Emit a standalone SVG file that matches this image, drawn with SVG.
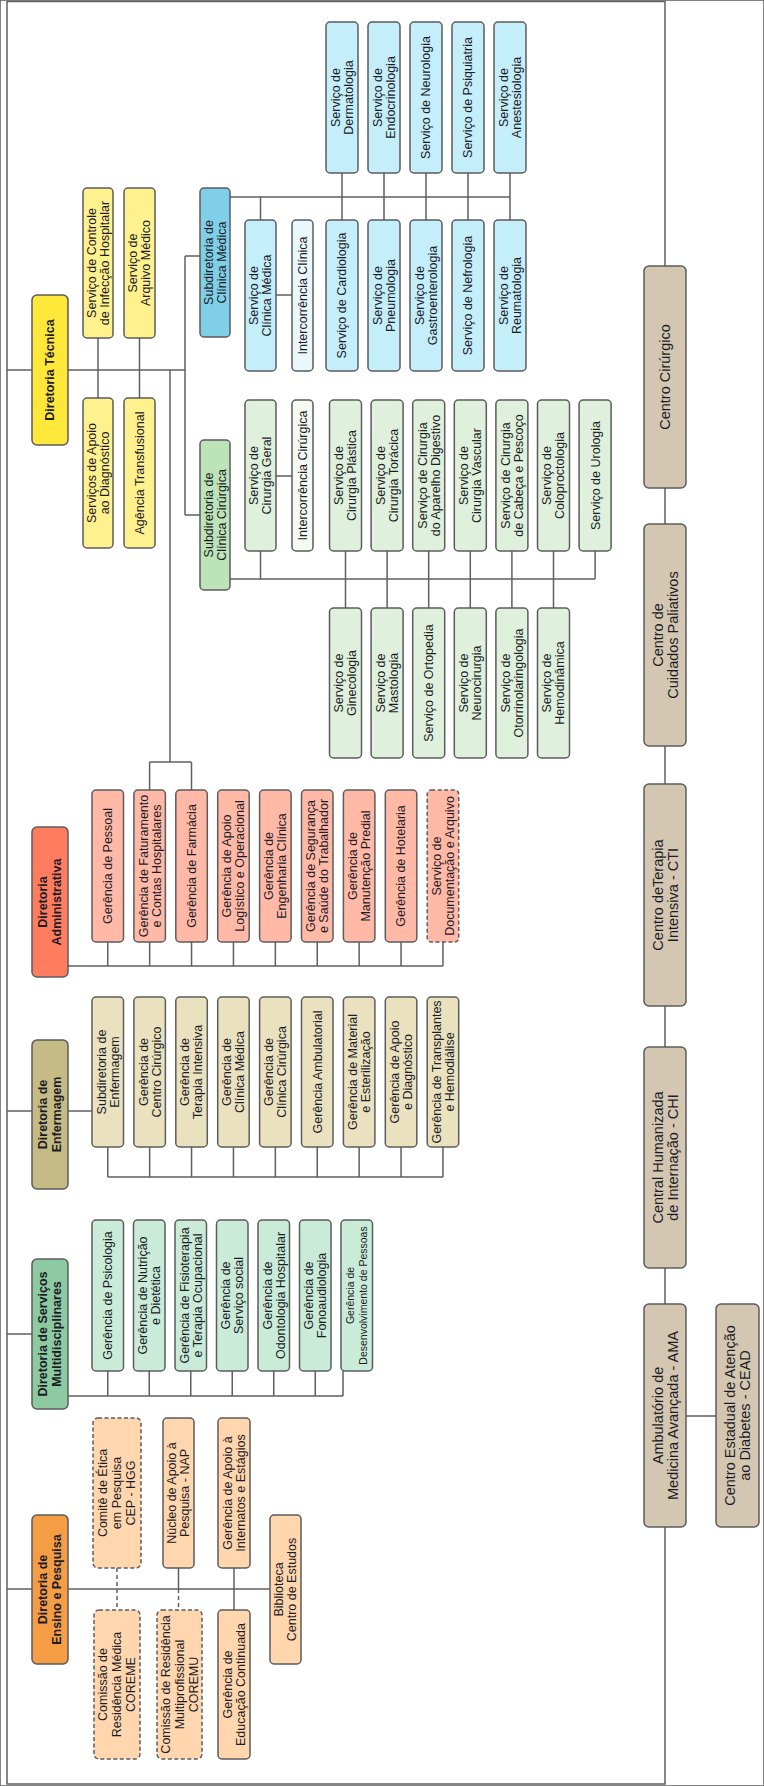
<svg xmlns="http://www.w3.org/2000/svg" width="764" height="1786" viewBox="0 0 764 1786">
<style>
rect{stroke:#5c5c5c;stroke-width:1.5}
.dash{stroke-dasharray:4 2.5}
.c{stroke:#606060;stroke-width:1.5;fill:none}
.cd{stroke:#606060;stroke-width:1.5;fill:none;stroke-dasharray:4 3}
text{font-family:"Liberation Sans",Arial,sans-serif;font-size:12.5px;fill:#1c1c28;text-anchor:middle}
.b{font-weight:bold}
.big{font-size:14.5px}
.sm{font-size:10.5px}
.yd{fill:#FFE83A}.yl{fill:#FFF28E}
.bd{fill:#80CFE8}.bl{fill:#C4EEFA}.bx{fill:#EAF7FD}
.gd{fill:#BDE3B8}.gl{fill:#DFF1DC}.gx{fill:#F5FAF2}
.rd{fill:#FF7D5E}.rl{fill:#FFB9A6}
.ed{fill:#C6BB85}.el{fill:#EAE1BF}
.md{fill:#8DC9A1}.ml{fill:#C9EBD7}
.od{fill:#F59D45}.ol{fill:#FFD6AD}
.bg{fill:#D4C7B1}
</style>
<rect x="0" y="0" width="764" height="1786" fill="#fff" stroke="none"/>
<g id="connectors">
<path class="c" d="M665,266 V1.5 H7 V1784 H665 V1527"/>
<path class="c" d="M665,488 V524 M665,746 V784 M665,1006 V1047 M665,1268 V1304 M686,1416 H716"/>
<path class="c" d="M7,370 H32 M68,370 H185 M185,256 V515 M185,256 H200 M185,515 H200 M98,338 V398 M139.5,338 V398"/>
<path class="c" d="M170,370 V762 M149.6,762 H191.5 M149.6,762 V790 M191.5,762 V790"/>
<path class="c" d="M230,197 H510 M260.5,197 V220 M342,173 V220 M384,173 V220 M426,173 V220 M468,173 V220 M510,173 V220 M276,295 H292"/>
<path class="c" d="M230,579 H595.1 M260.5,551 V579 M276,476 H292 M345.5,551 V608 M387.1,551 V608 M428.7,551 V608 M470.3,551 V608 M511.9,551 V608 M553.5,551 V608 M595.1,551 V579"/>
<path class="c" d="M68,966 H443 M107.75,942 V966 M149.65,942 V966 M191.55,942 V966 M233.45,942 V966 M275.35,942 V966 M317.25,942 V966 M359.15,942 V966 M401.05,942 V966 M442.95,942 V966"/>
<path class="c" d="M7,1111 H32 M68,1111 H92 M107.75,1177 H443 M107.75,1147 V1177 M149.65,1147 V1177 M191.55,1147 V1177 M233.45,1147 V1177 M275.35,1147 V1177 M317.25,1147 V1177 M359.15,1147 V1177 M401.05,1147 V1177 M442.95,1147 V1177"/>
<path class="c" d="M7,1334 H32 M68,1396 H343 M107.75,1371 V1396 M149.25,1371 V1396 M190.75,1371 V1396 M232.25,1371 V1396 M273.75,1371 V1396 M315.25,1371 V1396 M343,1371 V1396"/>
<path class="c" d="M7,1589 H32 M68,1589 H270 M178.5,1568 V1589 M234,1568 V1610"/>
<path class="cd" d="M117,1568 V1610 M178.5,1589 V1610"/>
</g>
<g id="diretoria-tecnica"><rect class="yd" x="32" y="295" width="36" height="150" rx="5"/><text class="b" transform="translate(50,370) rotate(-90)" y="4.4">Diretoria Técnica</text></g>
<g id="scih"><rect class="yl" x="83" y="188" width="30" height="150" rx="4"/><text transform="translate(98,263) rotate(-90)"><tspan x="0" y="-2.1">Serviço de Controle</tspan><tspan x="0" y="10.9">de Infecção Hospitalar</tspan></text></g>
<g id="sam"><rect class="yl" x="124" y="188" width="31" height="150" rx="4"/><text transform="translate(139.5,263) rotate(-90)"><tspan x="0" y="-2.1">Serviço de</tspan><tspan x="0" y="10.9">Arquivo Médico</tspan></text></g>
<g id="sad"><rect class="yl" x="83" y="398" width="30" height="150" rx="4"/><text transform="translate(98,473) rotate(-90)"><tspan x="0" y="-2.1">Serviços de Apoio</tspan><tspan x="0" y="10.9">ao Diagnóstico</tspan></text></g>
<g id="agencia"><rect class="yl" x="124" y="398" width="31" height="150" rx="4"/><text transform="translate(139.5,473) rotate(-90)" y="4.4">Agência Transfusional</text></g>
<g id="sub-clinica-medica"><rect class="bd" x="200" y="188" width="30" height="149" rx="4"/><text transform="translate(215,262.5) rotate(-90)"><tspan x="0" y="-2.1">Subdiretoria de</tspan><tspan x="0" y="10.9">Clínica Médica</tspan></text></g>
<g id="dermatologia"><rect class="bl" x="326" y="22" width="32" height="151" rx="4"/><text transform="translate(342,97.5) rotate(-90)"><tspan x="0" y="-2.1">Serviço de</tspan><tspan x="0" y="10.9">Dermatologia</tspan></text></g>
<g id="endocrinologia"><rect class="bl" x="368" y="22" width="32" height="151" rx="4"/><text transform="translate(384,97.5) rotate(-90)"><tspan x="0" y="-2.1">Serviço de</tspan><tspan x="0" y="10.9">Endocrinologia</tspan></text></g>
<g id="neurologia"><rect class="bl" x="410" y="22" width="32" height="151" rx="4"/><text transform="translate(426,97.5) rotate(-90)" y="4.4">Serviço de Neurologia</text></g>
<g id="psiquiatria"><rect class="bl" x="452" y="22" width="32" height="151" rx="4"/><text transform="translate(468,97.5) rotate(-90)" y="4.4">Serviço de Psiquiatria</text></g>
<g id="anestesiologia"><rect class="bl" x="494" y="22" width="32" height="151" rx="4"/><text transform="translate(510,97.5) rotate(-90)"><tspan x="0" y="-2.1">Serviço de</tspan><tspan x="0" y="10.9">Anestesiologia</tspan></text></g>
<g id="clinica-medica"><rect class="bl" x="245" y="220" width="31" height="151" rx="4"/><text transform="translate(260.5,295.5) rotate(-90)"><tspan x="0" y="-2.1">Serviço de</tspan><tspan x="0" y="10.9">Clínica Médica</tspan></text></g>
<g id="intercorrencia-clinica"><rect class="bx" x="292" y="220" width="21" height="151" rx="4"/><text transform="translate(302.5,295.5) rotate(-90)" y="4.4">Intercorrência Clínica</text></g>
<g id="cardiologia"><rect class="bl" x="326" y="220" width="32" height="151" rx="4"/><text transform="translate(342,295.5) rotate(-90)" y="4.4">Serviço de Cardiologia</text></g>
<g id="pneumologia"><rect class="bl" x="368" y="220" width="32" height="151" rx="4"/><text transform="translate(384,295.5) rotate(-90)"><tspan x="0" y="-2.1">Serviço de</tspan><tspan x="0" y="10.9">Pneumologia</tspan></text></g>
<g id="gastro"><rect class="bl" x="410" y="220" width="32" height="151" rx="4"/><text transform="translate(426,295.5) rotate(-90)"><tspan x="0" y="-2.1">Serviço de</tspan><tspan x="0" y="10.9">Gastroenterologia</tspan></text></g>
<g id="nefrologia"><rect class="bl" x="452" y="220" width="32" height="151" rx="4"/><text transform="translate(468,295.5) rotate(-90)" y="4.4">Serviço de Nefrologia</text></g>
<g id="reumatologia"><rect class="bl" x="494" y="220" width="32" height="151" rx="4"/><text transform="translate(510,295.5) rotate(-90)"><tspan x="0" y="-2.1">Serviço de</tspan><tspan x="0" y="10.9">Reumatologia</tspan></text></g>
<g id="sub-clinica-cirurgica"><rect class="gd" x="200" y="440" width="30" height="150" rx="4"/><text transform="translate(215,515) rotate(-90)"><tspan x="0" y="-2.1">Subdiretoria de</tspan><tspan x="0" y="10.9">Clínica Cirúrgica</tspan></text></g>
<g id="cirurgia-geral"><rect class="gl" x="245" y="400" width="31" height="151" rx="4"/><text transform="translate(260.5,475.5) rotate(-90)"><tspan x="0" y="-2.1">Serviço de</tspan><tspan x="0" y="10.9">Cirurgia Geral</tspan></text></g>
<g id="intercorrencia-cirurgica"><rect class="gx" x="292" y="400" width="21" height="151" rx="4"/><text transform="translate(302.5,475.5) rotate(-90)" y="4.4">Intercorrência Cirúrgica</text></g>
<g id="plastica"><rect class="gl" x="329.5" y="400" width="32" height="151" rx="4"/><text transform="translate(345.5,475.5) rotate(-90)"><tspan x="0" y="-2.1">Serviço de</tspan><tspan x="0" y="10.9">Cirurgia Plástica</tspan></text></g>
<g id="toracica"><rect class="gl" x="371.1" y="400" width="32" height="151" rx="4"/><text transform="translate(387.1,475.5) rotate(-90)"><tspan x="0" y="-2.1">Serviço de</tspan><tspan x="0" y="10.9">Cirurgia Torácica</tspan></text></g>
<g id="digestivo"><rect class="gl" x="412.7" y="400" width="32" height="151" rx="4"/><text transform="translate(428.7,475.5) rotate(-90)"><tspan x="0" y="-2.1">Serviço de Cirurgia</tspan><tspan x="0" y="10.9">do Aparelho Digestivo</tspan></text></g>
<g id="vascular"><rect class="gl" x="454.3" y="400" width="32" height="151" rx="4"/><text transform="translate(470.3,475.5) rotate(-90)"><tspan x="0" y="-2.1">Serviço de</tspan><tspan x="0" y="10.9">Cirurgia Vascular</tspan></text></g>
<g id="cabeca"><rect class="gl" x="495.9" y="400" width="32" height="151" rx="4"/><text transform="translate(511.9,475.5) rotate(-90)"><tspan x="0" y="-2.1">Serviço de Cirurgia</tspan><tspan x="0" y="10.9">de Cabeça e Pescoço</tspan></text></g>
<g id="coloproctologia"><rect class="gl" x="537.5" y="400" width="32" height="151" rx="4"/><text transform="translate(553.5,475.5) rotate(-90)"><tspan x="0" y="-2.1">Serviço de</tspan><tspan x="0" y="10.9">Coloproctologia</tspan></text></g>
<g id="urologia"><rect class="gl" x="579.1" y="400" width="32" height="151" rx="4"/><text transform="translate(595.1,475.5) rotate(-90)" y="4.4">Serviço de Urologia</text></g>
<g id="ginecologia"><rect class="gl" x="329.5" y="608" width="32" height="150" rx="4"/><text transform="translate(345.5,683) rotate(-90)"><tspan x="0" y="-2.1">Serviço de</tspan><tspan x="0" y="10.9">Ginecologia</tspan></text></g>
<g id="mastologia"><rect class="gl" x="371.1" y="608" width="32" height="150" rx="4"/><text transform="translate(387.1,683) rotate(-90)"><tspan x="0" y="-2.1">Serviço de</tspan><tspan x="0" y="10.9">Mastologia</tspan></text></g>
<g id="ortopedia"><rect class="gl" x="412.7" y="608" width="32" height="150" rx="4"/><text transform="translate(428.7,683) rotate(-90)" y="4.4">Serviço de Ortopedia</text></g>
<g id="neurocirurgia"><rect class="gl" x="454.3" y="608" width="32" height="150" rx="4"/><text transform="translate(470.3,683) rotate(-90)"><tspan x="0" y="-2.1">Serviço de</tspan><tspan x="0" y="10.9">Neurocirurgia</tspan></text></g>
<g id="otorrino"><rect class="gl" x="495.9" y="608" width="32" height="150" rx="4"/><text transform="translate(511.9,683) rotate(-90)"><tspan x="0" y="-2.1">Serviço de</tspan><tspan x="0" y="10.9">Otorrinolaringologia</tspan></text></g>
<g id="hemodinamica"><rect class="gl" x="537.5" y="608" width="32" height="150" rx="4"/><text transform="translate(553.5,683) rotate(-90)"><tspan x="0" y="-2.1">Serviço de</tspan><tspan x="0" y="10.9">Hemodinâmica</tspan></text></g>
<g id="diretoria-administrativa"><rect class="rd" x="32" y="827" width="36" height="150" rx="5"/><text class="b" transform="translate(50,902) rotate(-90)"><tspan x="0" y="-2.6">Diretoria</tspan><tspan x="0" y="11.4">Administrativa</tspan></text></g>
<g id="pessoal"><rect class="rl" x="92" y="790" width="31.5" height="152" rx="4"/><text transform="translate(107.75,866) rotate(-90)" y="4.4">Gerência de Pessoal</text></g>
<g id="faturamento"><rect class="rl" x="133.9" y="790" width="31.5" height="152" rx="4"/><text transform="translate(149.65,866) rotate(-90)"><tspan x="0" y="-2.1">Gerência de Faturamento</tspan><tspan x="0" y="10.9">e Contas Hospitalares</tspan></text></g>
<g id="farmacia"><rect class="rl" x="175.8" y="790" width="31.5" height="152" rx="4"/><text transform="translate(191.55,866) rotate(-90)" y="4.4">Gerência de Farmácia</text></g>
<g id="logistico"><rect class="rl" x="217.7" y="790" width="31.5" height="152" rx="4"/><text transform="translate(233.45,866) rotate(-90)"><tspan x="0" y="-2.1">Gerência de Apoio</tspan><tspan x="0" y="10.9">Logístico e Operacional</tspan></text></g>
<g id="engenharia"><rect class="rl" x="259.6" y="790" width="31.5" height="152" rx="4"/><text transform="translate(275.35,866) rotate(-90)"><tspan x="0" y="-2.1">Gerência de</tspan><tspan x="0" y="10.9">Engenharia Clínica</tspan></text></g>
<g id="seguranca"><rect class="rl" x="301.5" y="790" width="31.5" height="152" rx="4"/><text transform="translate(317.25,866) rotate(-90)"><tspan x="0" y="-2.1">Gerência de Segurança</tspan><tspan x="0" y="10.9">e Saúde do Trabalhador</tspan></text></g>
<g id="manutencao"><rect class="rl" x="343.4" y="790" width="31.5" height="152" rx="4"/><text transform="translate(359.15,866) rotate(-90)"><tspan x="0" y="-2.1">Gerência de</tspan><tspan x="0" y="10.9">Manutenção Predial</tspan></text></g>
<g id="hotelaria"><rect class="rl" x="385.3" y="790" width="31.5" height="152" rx="4"/><text transform="translate(401.05,866) rotate(-90)" y="4.4">Gerência de Hotelaria</text></g>
<g id="documentacao"><rect class="rl dash" x="427.2" y="790" width="31.5" height="152" rx="4"/><text transform="translate(442.95,866) rotate(-90)"><tspan x="0" y="-2.1">Serviço de</tspan><tspan x="0" y="10.9">Documentação e Arquivo</tspan></text></g>
<g id="diretoria-enfermagem"><rect class="ed" x="32" y="1040" width="36" height="149" rx="5"/><text class="b" transform="translate(50,1114.5) rotate(-90)"><tspan x="0" y="-2.6">Diretoria de</tspan><tspan x="0" y="11.4">Enfermagem</tspan></text></g>
<g id="sub-enfermagem"><rect class="el" x="92" y="997" width="31.5" height="150" rx="4"/><text transform="translate(107.75,1072) rotate(-90)"><tspan x="0" y="-2.1">Subdiretoria de</tspan><tspan x="0" y="10.9">Enfermagem</tspan></text></g>
<g id="g-centro-cirurgico"><rect class="el" x="133.9" y="997" width="31.5" height="150" rx="4"/><text transform="translate(149.65,1072) rotate(-90)"><tspan x="0" y="-2.1">Gerência de</tspan><tspan x="0" y="10.9">Centro Cirúrgico</tspan></text></g>
<g id="g-terapia"><rect class="el" x="175.8" y="997" width="31.5" height="150" rx="4"/><text transform="translate(191.55,1072) rotate(-90)"><tspan x="0" y="-2.1">Gerência de</tspan><tspan x="0" y="10.9">Terapia Intensiva</tspan></text></g>
<g id="g-clinica-medica"><rect class="el" x="217.7" y="997" width="31.5" height="150" rx="4"/><text transform="translate(233.45,1072) rotate(-90)"><tspan x="0" y="-2.1">Gerência de</tspan><tspan x="0" y="10.9">Clínica Médica</tspan></text></g>
<g id="g-clinica-cirurgica"><rect class="el" x="259.6" y="997" width="31.5" height="150" rx="4"/><text transform="translate(275.35,1072) rotate(-90)"><tspan x="0" y="-2.1">Gerência de</tspan><tspan x="0" y="10.9">Clínica Cirúrgica</tspan></text></g>
<g id="g-ambulatorial"><rect class="el" x="301.5" y="997" width="31.5" height="150" rx="4"/><text transform="translate(317.25,1072) rotate(-90)" y="4.4">Gerência Ambulatorial</text></g>
<g id="g-material"><rect class="el" x="343.4" y="997" width="31.5" height="150" rx="4"/><text transform="translate(359.15,1072) rotate(-90)"><tspan x="0" y="-2.1">Gerência de Material</tspan><tspan x="0" y="10.9">e Esterilização</tspan></text></g>
<g id="g-apoio-diag"><rect class="el" x="385.3" y="997" width="31.5" height="150" rx="4"/><text transform="translate(401.05,1072) rotate(-90)"><tspan x="0" y="-2.1">Gerência de Apoio</tspan><tspan x="0" y="10.9">e Diagnóstico</tspan></text></g>
<g id="g-transplantes"><rect class="el" x="427.2" y="997" width="31.5" height="150" rx="4"/><text transform="translate(442.95,1072) rotate(-90)"><tspan x="0" y="-2.1">Gerência de Transplantes</tspan><tspan x="0" y="10.9">e Hemodiálise</tspan></text></g>
<g id="diretoria-multi"><rect class="md" x="32" y="1259" width="36" height="150" rx="5"/><text class="b" transform="translate(50,1334) rotate(-90)"><tspan x="0" y="-2.6">Diretoria de Serviços</tspan><tspan x="0" y="11.4">Multidisciplinares</tspan></text></g>
<g id="psicologia"><rect class="ml" x="92" y="1220" width="31.5" height="151" rx="4"/><text transform="translate(107.75,1295.5) rotate(-90)" y="4.4">Gerência de Psicologia</text></g>
<g id="nutricao"><rect class="ml" x="133.5" y="1220" width="31.5" height="151" rx="4"/><text transform="translate(149.25,1295.5) rotate(-90)"><tspan x="0" y="-2.1">Gerência de Nutrição</tspan><tspan x="0" y="10.9">e Dietética</tspan></text></g>
<g id="fisioterapia"><rect class="ml" x="175" y="1220" width="31.5" height="151" rx="4"/><text transform="translate(190.75,1295.5) rotate(-90)"><tspan x="0" y="-2.1">Gerência de Fisioterapia</tspan><tspan x="0" y="10.9">e Terapia Ocupacional</tspan></text></g>
<g id="servico-social"><rect class="ml" x="216.5" y="1220" width="31.5" height="151" rx="4"/><text transform="translate(232.25,1295.5) rotate(-90)"><tspan x="0" y="-2.1">Gerência de</tspan><tspan x="0" y="10.9">Serviço social</tspan></text></g>
<g id="odontologia"><rect class="ml" x="258" y="1220" width="31.5" height="151" rx="4"/><text transform="translate(273.75,1295.5) rotate(-90)"><tspan x="0" y="-2.1">Gerência de</tspan><tspan x="0" y="10.9">Odontologia Hospitalar</tspan></text></g>
<g id="fonoaudiologia"><rect class="ml" x="299.5" y="1220" width="31.5" height="151" rx="4"/><text transform="translate(315.25,1295.5) rotate(-90)"><tspan x="0" y="-2.1">Gerência de</tspan><tspan x="0" y="10.9">Fonoaudiologia</tspan></text></g>
<g id="desenvolvimento"><rect class="ml" x="341" y="1220" width="31.5" height="151" rx="4"/><text class="sm" transform="translate(356.75,1295.5) rotate(-90)"><tspan x="0" y="-2.8">Gerência de</tspan><tspan x="0" y="10.2">Desenvolvimento de Pessoas</tspan></text></g>
<g id="diretoria-ensino"><rect class="od" x="32" y="1515" width="36" height="149" rx="5"/><text class="b" transform="translate(50,1589.5) rotate(-90)"><tspan x="0" y="-2.6">Diretoria de</tspan><tspan x="0" y="11.4">Ensino e Pesquisa</tspan></text></g>
<g id="cep"><rect class="ol dash" x="93" y="1418" width="48" height="150" rx="5"/><text transform="translate(117,1493) rotate(-90)"><tspan x="0" y="-9.6">Comitê de Ética</tspan><tspan x="0" y="4.4">em Pesquisa</tspan><tspan x="0" y="18.4">CEP - HGG</tspan></text></g>
<g id="nap"><rect class="ol" x="163" y="1418" width="31" height="150" rx="4"/><text transform="translate(178.5,1493) rotate(-90)"><tspan x="0" y="-2.1">Núcleo de Apoio à</tspan><tspan x="0" y="10.9">Pesquisa - NAP</tspan></text></g>
<g id="internatos"><rect class="ol" x="218" y="1418" width="32" height="150" rx="4"/><text transform="translate(234,1493) rotate(-90)"><tspan x="0" y="-2.1">Gerência de Apoio à</tspan><tspan x="0" y="10.9">Internatos e Estágios</tspan></text></g>
<g id="coreme"><rect class="ol dash" x="94" y="1610" width="46" height="149" rx="5"/><text transform="translate(117,1684.5) rotate(-90)"><tspan x="0" y="-9.6">Comissão de</tspan><tspan x="0" y="4.4">Residência Médica</tspan><tspan x="0" y="18.4">COREME</tspan></text></g>
<g id="coremu"><rect class="ol dash" x="157" y="1610" width="45" height="149" rx="5"/><text transform="translate(179.5,1684.5) rotate(-90)"><tspan x="0" y="-9.6">Comissão de Residência</tspan><tspan x="0" y="4.4">Multiprofissional</tspan><tspan x="0" y="18.4">COREMU</tspan></text></g>
<g id="educacao"><rect class="ol" x="218" y="1610" width="32" height="149" rx="4"/><text transform="translate(234,1684.5) rotate(-90)"><tspan x="0" y="-2.1">Gerência de</tspan><tspan x="0" y="10.9">Educação Continuada</tspan></text></g>
<g id="biblioteca"><rect class="ol" x="270" y="1515" width="31" height="149" rx="4"/><text transform="translate(285.5,1589.5) rotate(-90)"><tspan x="0" y="-2.1">Biblioteca</tspan><tspan x="0" y="10.9">Centro de Estudos</tspan></text></g>
<g id="centro-cirurgico"><rect class="bg" x="644" y="266" width="42" height="222" rx="5"/><text class="big" transform="translate(665,377) rotate(-90)" y="5.1">Centro Cirúrgico</text></g>
<g id="cuidados-paliativos"><rect class="bg" x="644" y="524" width="42" height="222" rx="5"/><text class="big" transform="translate(665,635) rotate(-90)"><tspan x="0" y="-2.4">Centro de</tspan><tspan x="0" y="12.6">Cuidados Paliativos</tspan></text></g>
<g id="cti"><rect class="bg" x="644" y="784" width="42" height="222" rx="5"/><text class="big" transform="translate(665,895) rotate(-90)"><tspan x="0" y="-2.4">Centro deTerapia</tspan><tspan x="0" y="12.6">Intensiva - CTI</tspan></text></g>
<g id="chi"><rect class="bg" x="644" y="1047" width="42" height="221" rx="5"/><text class="big" transform="translate(665,1157.5) rotate(-90)"><tspan x="0" y="-2.4">Central Humanizada</tspan><tspan x="0" y="12.6">de Internação - CHI</tspan></text></g>
<g id="ama"><rect class="bg" x="644" y="1304" width="42" height="223" rx="5"/><text class="big" transform="translate(665,1415.5) rotate(-90)"><tspan x="0" y="-2.4">Ambulatório de</tspan><tspan x="0" y="12.6">Medicina Avançada - AMA</tspan></text></g>
<g id="cead"><rect class="bg" x="716" y="1304" width="43" height="223" rx="5"/><text class="big" transform="translate(737.5,1415.5) rotate(-90)"><tspan x="0" y="-2.4">Centro Estadual de Atenção</tspan><tspan x="0" y="12.6">ao Diabetes - CEAD</tspan></text></g>
</svg>
